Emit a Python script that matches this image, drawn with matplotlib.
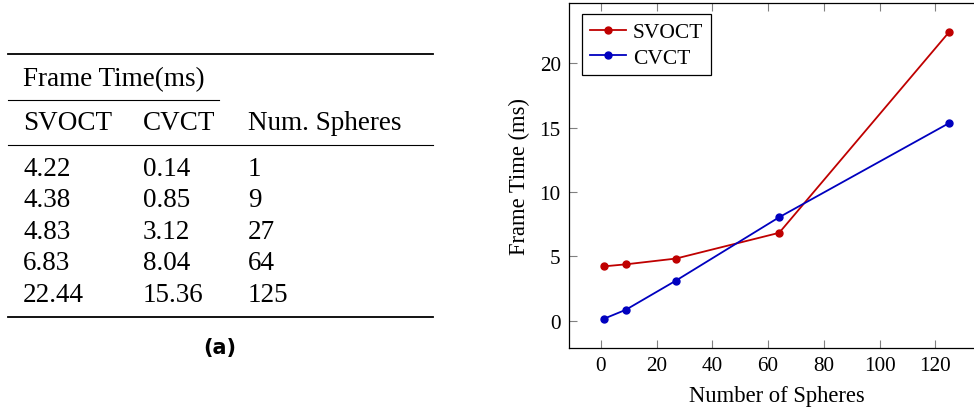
import matplotlib.pyplot as plt
from matplotlib.lines import Line2D

# data
num_spheres = [1, 9, 27, 64, 125]
svoct = [4.22, 4.38, 4.83, 6.83, 22.44]
cvct = [0.14, 0.85, 3.12, 8.04, 15.36]
series_names = ["SVOCT", "CVCT"]
group_header = "Frame Time(ms)"
count_header = "Num. Spheres"

W, H = 974, 410
plt.rcParams['font.family'] = ['Liberation Serif', 'DejaVu Serif']

fig = plt.figure(figsize=(W / 100, H / 100), dpi=100)


def fx(px):
    return px / W


def fy(py):
    return 1 - py / H


def rule(x0, x1, y, lw):
    fig.add_artist(Line2D([fx(x0), fx(x1)], [fy(y), fy(y)], color='black',
                          lw=lw, transform=fig.transFigure))


# ---- table (a) ----
tsize = 19.5
col_x = [23, 143, 248]
rule(8, 433, 55, 1.3)
fig.text(fx(col_x[0]), fy(86.5), group_header, fontsize=tsize, va='baseline')
rule(8, 219, 100.7, 0.8)
for x, h in zip(col_x, series_names + [count_header]):
    fig.text(fx(x), fy(130.5), h, fontsize=tsize, va='baseline')
rule(8, 433, 145.7, 0.8)
row_y = [176, 207.5, 239, 270.5, 302]
for y, a, b, n in zip(row_y, svoct, cvct, num_spheres):
    fig.text(fx(col_x[0]), fy(y), f"{a:.2f}", fontsize=tsize, va='baseline')
    fig.text(fx(col_x[1]), fy(y), f"{b:.2f}", fontsize=tsize, va='baseline')
    fig.text(fx(col_x[2]), fy(y), str(n), fontsize=tsize, va='baseline')
rule(8, 433, 318, 1.3)
fig.text(fx(220), fy(348), "(a)", fontsize=15, fontweight='bold',
         family='DejaVu Sans', ha='center', va='center')

# ---- plot ----
left, right, top, bottom = 569, 983.8, 4.2, 348.6
ax = fig.add_axes([fx(left), fy(bottom), fx(right - left), (bottom - top) / H])
red = (0.75, 0, 0)
blue = (0, 0, 0.75)
ax.plot(num_spheres, svoct, '-o', color=red, lw=1.3, ms=5, label=series_names[0])
ax.plot(num_spheres, cvct, '-o', color=blue, lw=1.3, ms=5, label=series_names[1])
ax.set_xlim(-11.4, 137.4)
ax.set_ylim(-2.09, 24.67)
ax.set_xticks([0, 20, 40, 60, 80, 100, 120])
ax.set_yticks([0, 5, 10, 15, 20])
ax.tick_params(direction='in', length=6, width=0.8, color='0.5', top=True,
               right=False, labelsize=15.2, pad=6)
for s in ax.spines.values():
    s.set_linewidth(0.9)
ax.spines['right'].set_visible(False)
ax.set_xlabel("Number of Spheres", fontsize=16.3, labelpad=7)
ax.set_ylabel("Frame Time (ms)", fontsize=16.3, labelpad=7)
leg = ax.legend(loc='upper left', bbox_to_anchor=(0.032, 0.9686), borderaxespad=0,
                fontsize=15.5, fancybox=False, edgecolor='black', framealpha=1,
                numpoints=1, handlelength=1.67, handletextpad=0.3,
                labelspacing=0.25, borderpad=0.37)
leg.get_frame().set_linewidth(0.9)

fig.savefig("out.png", dpi=100)
